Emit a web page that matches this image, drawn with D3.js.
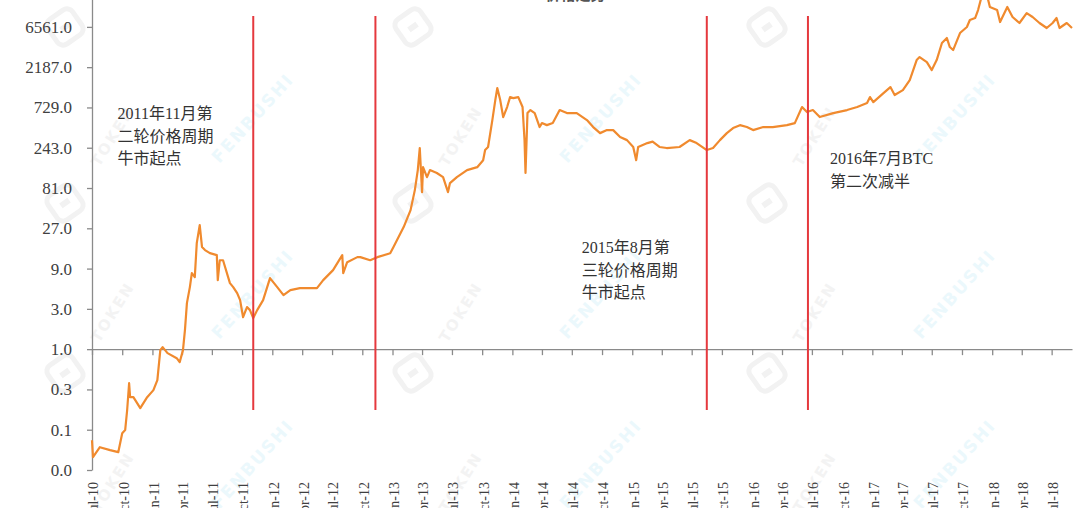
<!DOCTYPE html>
<html><head><meta charset="utf-8">
<script src="https://cdn.jsdelivr.net/npm/d3@7"></script>
<style>
html,body{margin:0;padding:0;background:#fff;}
svg{display:block;}
</style></head>
<body>
<svg id="c" width="1080" height="508"></svg>
<script>
const dates = ["2010-07-01","2010-07-04","2010-07-25","2010-08-25","2010-09-19","2010-10-01","2010-10-10","2010-10-16","2010-10-22","2010-10-25","2010-11-04","2010-11-25","2010-12-16","2011-01-04","2011-01-16","2011-01-25","2011-02-01","2011-02-16","2011-03-16","2011-03-25","2011-04-04","2011-04-10","2011-04-16","2011-04-25","2011-05-01","2011-05-10","2011-05-16","2011-05-25","2011-06-01","2011-06-10","2011-06-25","2011-07-16","2011-07-19","2011-07-25","2011-08-04","2011-08-25","2011-09-04","2011-09-16","2011-09-25","2011-10-04","2011-10-16","2011-10-25","2011-11-04","2011-11-16","2011-12-04","2011-12-25","2012-01-16","2012-02-04","2012-02-25","2012-03-25","2012-05-16","2012-06-04","2012-07-04","2012-08-01","2012-08-04","2012-08-16","2012-09-16","2012-09-25","2012-10-25","2012-11-10","2012-11-16","2012-12-25","2013-01-04","2013-02-04","2013-02-25","2013-03-10","2013-03-19","2013-03-25","2013-04-01","2013-04-04","2013-04-16","2013-04-25","2013-05-16","2013-06-04","2013-06-19","2013-06-25","2013-07-16","2013-08-16","2013-09-16","2013-10-04","2013-10-10","2013-10-19","2013-11-01","2013-11-10","2013-11-16","2013-11-25","2013-12-04","2013-12-16","2013-12-25","2014-01-04","2014-01-19","2014-02-01","2014-02-07","2014-02-10","2014-02-16","2014-02-25","2014-03-10","2014-03-25","2014-04-01","2014-04-16","2014-05-04","2014-05-25","2014-06-16","2014-07-16","2014-08-16","2014-09-04","2014-09-25","2014-10-16","2014-11-04","2014-11-25","2014-12-16","2015-01-04","2015-01-13","2015-01-19","2015-02-16","2015-03-04","2015-03-25","2015-04-16","2015-05-25","2015-06-25","2015-07-16","2015-08-16","2015-09-04","2015-09-25","2015-10-16","2015-11-04","2015-11-25","2015-12-16","2016-01-04","2016-02-04","2016-03-04","2016-04-16","2016-05-10","2016-06-01","2016-06-16","2016-07-04","2016-07-25","2016-09-04","2016-10-16","2016-11-16","2016-12-16","2016-12-25","2017-01-04","2017-02-04","2017-02-25","2017-03-10","2017-04-04","2017-04-25","2017-05-16","2017-05-25","2017-06-16","2017-07-01","2017-07-16","2017-08-01","2017-08-16","2017-08-25","2017-09-04","2017-09-25","2017-10-16","2017-10-25","2017-11-10","2017-11-19","2017-12-01","2017-12-10","2017-12-16","2017-12-25","2018-01-16","2018-01-25","2018-02-16","2018-03-04","2018-03-25","2018-04-16","2018-05-04","2018-05-25","2018-06-16","2018-07-04","2018-07-16","2018-07-25","2018-08-16","2018-09-01"];
const prices = [0.0835,0.0525,0.069,0.0636,0.0602,0.101,0.110,0.189,0.395,0.270,0.270,0.200,0.270,0.327,0.429,0.973,1.056,0.897,0.782,0.701,0.973,1.68,3.51,5.43,7.95,7.13,18.0,29.5,16.2,14.9,13.7,13.0,6.57,11.3,11.3,6.05,5.43,4.61,3.81,2.39,3.15,2.90,2.33,2.90,3.81,6.94,5.43,4.36,5.00,5.28,5.28,6.57,8.63,13.0,7.95,10.7,12.3,12.3,11.3,12.0,12.3,13.7,16.2,27.9,44.3,76.5,132,241,72.5,143,109,132,122,109,72.5,92.6,109,132,143,173,228,248,517,891,1236,891,561,737,967,940,967,737,299,122,625,679,625,427,476,450,476,679,625,625,517,427,362,393,393,325,299,248,173,248,276,287,248,241,248,299,276,228,241,299,362,415,450,427,393,427,427,450,476,737,643,679,561,625,679,737,821,967,844,1079,1271,1022,1171,1539,2655,2881,2514,2020,2655,4225,4840,3785,3488,5547,6535,7912,8355,10390,15640,19500,15640,11280,10390,7490,11280,8586,7290,9570,8586,7290,6360,7290,8355,6360,7290,6360];

const yTickValues = [1/27, 1/9, 1/3, 1, 3, 9, 27, 81, 243, 729, 2187, 6561];
const xTickLabels = ["Jul-10","Oct-10","Jan-11","Apr-11","Jul-11","Oct-11","Jan-12","Apr-12","Jul-12","Oct-12","Jan-13","Apr-13","Jul-13","Oct-13","Jan-14","Apr-14","Jul-14","Oct-14","Jan-15","Apr-15","Jul-15","Oct-15","Jan-16","Apr-16","Jul-16","Oct-16","Jan-17","Apr-17","Jul-17","Oct-17","Jan-18","Apr-18","Jul-18"];

const markerDates = ["2011-11-04","2012-11-10","2015-08-16","2016-06-19"];
const markerRange = [8800, 0.19];

const notes = [
  {date:"2010-09-17", value:532, lines:["2011年11月第","二轮价格周期","牛市起点"]},
  {date:"2014-07-31", value:13.7, lines:["2015年8月第","三轮价格周期","牛市起点"]},
  {date:"2016-08-25", value:155, lines:["2016年7月BTC","第二次减半"]}
];
const title = "BTC价格走势";
const watermarkCols = [65, 413, 767];
const watermarkRows = [27, 203, 373];
const watermarkTexts = ["TOKEN", "FENBUSHI"];

const parse = d3.timeParse("%Y-%m-%d");
const svg = d3.select("#c");
const serif = "'Liberation Serif','Times New Roman','Noto Sans CJK SC',serif";

const x = d3.scaleTime().domain([parse("2010-07-01"), parse("2018-09-01")]).range([92, 1072]);
const y = d3.scaleLog().base(3).domain([1/27, 19683]).range([470, -13.4]);

// faint watermarks
const wm = svg.append("g").attr("pointer-events","none");
watermarkRows.forEach(ry=>{
  watermarkCols.forEach(cx=>{
    const g = wm.append("g").attr("transform",`translate(${cx},${ry}) rotate(-35)`);
    g.append("rect").attr("x",-15).attr("y",-15).attr("width",30).attr("height",30).attr("rx",7)
      .attr("fill","none").attr("stroke","#f2f2f2").attr("stroke-width",5);
    g.append("rect").attr("x",-5).attr("y",-3).attr("width",10).attr("height",6).attr("fill","#f2f2f2");
    wm.append("text").attr("transform",`translate(${cx+52},${ry+112}) rotate(-58)`)
      .attr("font-family","'DejaVu Sans',sans-serif").attr("font-size",15).attr("font-weight","bold")
      .attr("fill","#f3f3f3").attr("text-anchor","middle").attr("letter-spacing",2).text(watermarkTexts[0]);
    wm.append("text").attr("transform",`translate(${cx+192},${ry+95}) rotate(-48)`)
      .attr("font-family","'DejaVu Sans',sans-serif").attr("font-size",17).attr("font-weight","bold")
      .attr("fill","#ebf8fc").attr("text-anchor","middle").attr("letter-spacing",2).text(watermarkTexts[1]);
  });
});

// title (mostly cut off at top)
svg.append("text").attr("x", 560).attr("y", 0).attr("text-anchor","middle")
  .attr("font-family", serif).attr("font-size", 15).attr("font-weight","bold").attr("fill","#555").text(title);

// y axis
const yAxis = d3.axisLeft(y).tickValues(yTickValues).tickFormat(d3.format(".1f")).tickSize(5).tickSizeOuter(0);
const gy = svg.append("g").attr("transform","translate(92,0)").call(yAxis);
gy.select(".domain").attr("stroke","#8a8a8a").attr("stroke-width",1.3);
gy.selectAll(".tick line").attr("stroke","#8a8a8a").attr("stroke-width",1.3);
gy.selectAll(".tick text").attr("x",-20).attr("font-family", serif).attr("font-size",17).attr("fill","#404040");

// x axis at value 1
const qTicks = d3.timeMonth.every(3).range(parse("2010-07-01"), parse("2018-07-02"));
const xAxis = d3.axisBottom(x).tickValues(qTicks).tickFormat((d,i)=>xTickLabels[i]).tickSize(6).tickSizeOuter(0);
const gx = svg.append("g").attr("transform",`translate(0,${y(1)})`).call(xAxis);
gx.select(".domain").attr("stroke","#8a8a8a").attr("stroke-width",1.3);
gx.selectAll(".tick line").attr("stroke","#8a8a8a").attr("stroke-width",1.3);
gx.selectAll(".tick text")
  .attr("transform",`translate(1,${482 - y(1)}) rotate(-90)`)
  .attr("x",0).attr("y",0).attr("dy","0.35em").attr("text-anchor","end")
  .attr("font-family", serif).attr("font-size",14).attr("fill","#404040");

// price line
const data = dates.map((d,i)=>({date:parse(d), v:prices[i]}));
svg.append("path").datum(data)
  .attr("fill","none").attr("stroke","#F08A2E").attr("stroke-width",2.2).attr("stroke-linejoin","round")
  .attr("d", d3.line().x(d=>x(d.date)).y(d=>y(d.v)));

// red markers
svg.selectAll("line.mk").data(markerDates).enter().append("line")
  .attr("x1", d=>x(parse(d))).attr("x2", d=>x(parse(d)))
  .attr("y1", y(markerRange[0])).attr("y2", y(markerRange[1]))
  .attr("stroke","#E5393E").attr("stroke-width",2);

// annotations
notes.forEach(n=>{
  const t = svg.append("text").attr("font-family", serif).attr("font-size",16).attr("fill","#333");
  n.lines.forEach((l,i)=>{
    t.append("tspan").attr("x", x(parse(n.date))).attr("y", y(n.value) + i*22.5).text(l);
  });
});
</script>
</body></html>
